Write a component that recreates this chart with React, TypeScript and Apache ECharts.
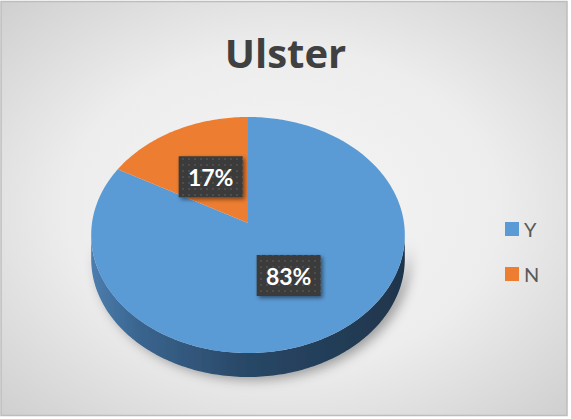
import React, { useEffect, useRef } from "react";
import * as echarts from "echarts";

const categories = ["Y", "N"];
const values = [83, 17];
const sliceColors = ["#5b9bd5", "#ed7d31"];
const titleText = "Ulster";

function makeTile(): string {
  const c = document.createElement("canvas");
  c.width = 6;
  c.height = 6;
  const g = c.getContext("2d");
  if (!g) return "";
  g.fillStyle = "#3a3a3a";
  g.fillRect(0, 0, 6, 6);
  g.fillStyle = "#4e4e4e";
  g.fillRect(2, 2, 2, 2);
  return c.toDataURL();
}

export default function App() {
  const ref = useRef<HTMLDivElement>(null);
  useEffect(() => {
    if (!ref.current) return;
    const chart = echarts.init(ref.current, null, { renderer: "svg" });
    const total = values.reduce((a, b) => a + b, 0);
    const starts: number[] = [];
    let acc = 0;
    values.forEach((v) => {
      starts.push(acc);
      acc += v;
    });
    const tile = makeTile();

    // perspective ellipse geometry
    const cx = 248;
    const cy = 223;
    const A = 156;
    const B = 116.8;
    const p = 0.1017;
    const depth = 24;
    const proj = (deg: number, f: number, dy: number) => {
      const t = (deg * Math.PI) / 180;
      const X = f * Math.sin(t);
      const Z = f * Math.cos(t);
      const w = 1 + p * Z;
      return [cx + (A * X) / w, cy - (B * Z) / w + dy];
    };
    const th1 = (Math.acos(-p) * 180) / Math.PI;
    const th2 = 360 - th1;

    const renderItem = (params: any, api: any) => {
      const v = api.value(0);
      const s = api.value(1);
      const a0 = (s / total) * 360;
      const a1 = ((s + v) / total) * 360;
      const color = api.visual("color");
      const children: any[] = [];
      // side
      const f0 = Math.max(a0, th1);
      const f1 = Math.min(a1, th2);
      if (f1 > f0) {
        const topPts: number[][] = [];
        const n = Math.max(2, Math.ceil(f1 - f0));
        for (let i = 0; i <= n; i++) topPts.push(proj(f0 + ((f1 - f0) * i) / n, 1, 0));
        const botPts: number[][] = [];
        for (let i = n; i >= 0; i--) botPts.push(proj(f0 + ((f1 - f0) * i) / n, 1, depth));
        children.push({
          type: "polygon",
          z2: 1,
          shape: { points: topPts.concat(botPts) },
          style: {
            fill: {
              type: "linear",
              x: 0,
              y: 0,
              x2: 1,
              y2: 0,
              colorStops: [
                { offset: 0, color: "#4c7dad" },
                { offset: 0.15, color: "#3a658f" },
                { offset: 0.5, color: "#284766" },
                { offset: 1, color: "#1f354c" },
              ],
            },
            shadowBlur: 12,
            shadowOffsetX: 5,
            shadowOffsetY: 3,
            shadowColor: "rgba(0,0,0,0.35)",
          },
        });
      }
      // top face
      const pts: number[][] = [proj(0, 0, 0)];
      const n = Math.max(2, Math.ceil(a1 - a0));
      for (let i = 0; i <= n; i++) pts.push(proj(a0 + ((a1 - a0) * i) / n, 1, 0));
      children.push({
        type: "polygon",
        z2: 10,
        shape: { points: pts },
        style: { fill: color },
      });
      // label box and text
      const mid = (a0 + a1) / 2;
      const lp = proj(mid, 0.49, 1);
      const bw = 64;
      const bh = 41;
      children.push({
        type: "rect",
        z2: 19,
        shape: { x: lp[0] - bw / 2, y: lp[1] - bh / 2, width: bw, height: bh },
        style: {
          fill: tile ? { image: tile, repeat: "repeat" } : "#3b3b3b",
          shadowBlur: 4,
          shadowOffsetX: 2,
          shadowOffsetY: 2,
          shadowColor: "rgba(0,0,0,0.5)",
        },
      });
      children.push({
        type: "text",
        z2: 20,
        x: lp[0],
        y: lp[1] + 0.5,
        style: {
          text: Math.round((v / total) * 100) + "%",
          fill: "#ffffff",
          fontSize: 23,
          fontWeight: "bold",
          fontFamily: "Lato",
          align: "center",
          verticalAlign: "middle",
        },
      });
      return { type: "group", children };
    };

    chart.setOption({
      animation: false,
      backgroundColor: "#ffffff",
      graphic: [
        {
          type: "rect",
          z: -10,
          shape: { x: 1, y: 1.5, width: 566, height: 414 },
          style: {
            fill: {
              type: "radial",
              x: 0.5,
              y: 0.5,
              r: 0.85,
              colorStops: [
                { offset: 0, color: "#f5f5f5" },
                { offset: 0.45, color: "#ededed" },
                { offset: 1, color: "#c2c2c2" },
              ],
            },
            stroke: "#bdbdbd",
            lineWidth: 1.5,
          },
        },
      ],
      title: {
        text: titleText,
        left: "center",
        top: 27,
        textStyle: {
          fontFamily: "Open Sans",
          fontSize: 40,
          fontWeight: "bold",
          color: "#404040",
        },
      },
      legend: {
        orient: "vertical",
        left: 505,
        top: 219,
        padding: 0,
        itemWidth: 14,
        itemHeight: 14,
        itemGap: 25,
        icon: "rect",
        data: categories,
        textStyle: { fontFamily: "Lato", fontSize: 20, color: "#595959" },
      },
      series: categories.map((c, i) => ({
        type: "custom",
        name: c,
        coordinateSystem: "none",
        itemStyle: { color: sliceColors[i] },
        data: [[values[i], starts[i]]],
        renderItem,
      })),
    });
    return () => chart.dispose();
  }, []);
  return (
    <div
      ref={ref}
      style={{ position: "fixed", left: 0, top: 0, width: 571, height: 419 }}
    />
  );
}
